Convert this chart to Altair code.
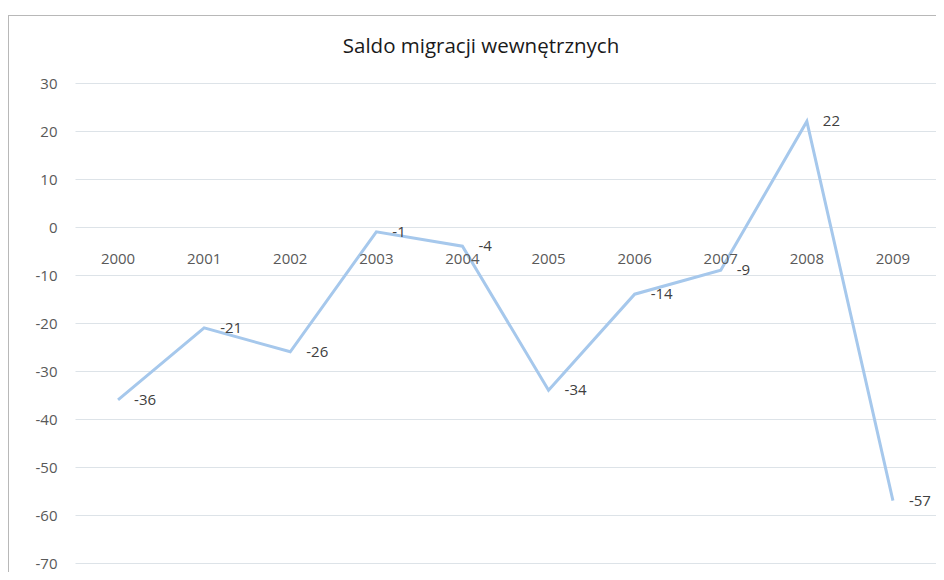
import altair as alt
import pandas as pd

title_text = "Saldo migracji wewnętrznych"
years = ["2000", "2001", "2002", "2003", "2004", "2005", "2006", "2007", "2008", "2009"]
values = [-36, -21, -26, -1, -4, -34, -14, -9, 22, -57]
y_ticks = [30, 20, 10, 0, -10, -20, -30, -40, -50, -60, -70]

df = pd.DataFrame({"rok": years, "saldo": values,
                   "etykieta": [str(v) for v in values]})

FONT = "Open Sans"

x_enc = alt.X("rok:N", sort=years, axis=None,
              scale=alt.Scale(paddingInner=0, paddingOuter=0.5))
y_scale = alt.Scale(domain=[-70, 30], nice=False, zero=False)

line = alt.Chart(df).mark_line(color="#a6c8ec", strokeWidth=3).encode(
    x=x_enc,
    y=alt.Y("saldo:Q", scale=y_scale,
            axis=alt.Axis(values=y_ticks, title=None, domain=False, ticks=False,
                          labelExpr="datum.value + ''",
                          labelPadding=18, labelFontSize=15, labelColor="#595959",
                          labelFont=FONT, gridColor="#dde3e8", gridWidth=1)),
)

labels = alt.Chart(df).mark_text(align="left", baseline="middle", dx=16,
                                 fontSize=15, font=FONT, color="#404040").encode(
    x=x_enc,
    y=alt.Y("saldo:Q", scale=y_scale),
    text="etykieta:N",
)

xlabels = alt.Chart(df).mark_text(align="center", baseline="middle", dy=32,
                                  fontSize=15, font=FONT, color="#595959").encode(
    x=x_enc,
    y=alt.datum(0),
    text="rok:N",
)

title = alt.Chart(pd.DataFrame({"t": [title_text]})).mark_text(
    align="center", baseline="alphabetic", fontSize=20.5, font=FONT, color="#1a1a1a"
).encode(x=alt.value(406), y=alt.value(-30), text="t:N")

frame = alt.Chart(df).mark_rule(color="#b8b8b8", strokeWidth=1, clip=False).encode(
    x=alt.value(-66.5), x2=alt.value(-66.5), y=alt.value(-67.5), y2=alt.value(489)
)
frame_top = alt.Chart(df).mark_rule(color="#b8b8b8", strokeWidth=1, clip=False).encode(
    x=alt.value(-66.5), x2=alt.value(861), y=alt.value(-67.5), y2=alt.value(-67.5)
)

chart = alt.layer(frame, frame_top, line, xlabels, labels, title).properties(
    width=861, height=480,
    autosize=alt.AutoSizeParams(type="none"),
    padding={"left": 67, "top": 75, "right": 0, "bottom": 9},
).configure_view(stroke=None)

chart.save("out.html", embed_options={"renderer": "svg", "actions": False})
